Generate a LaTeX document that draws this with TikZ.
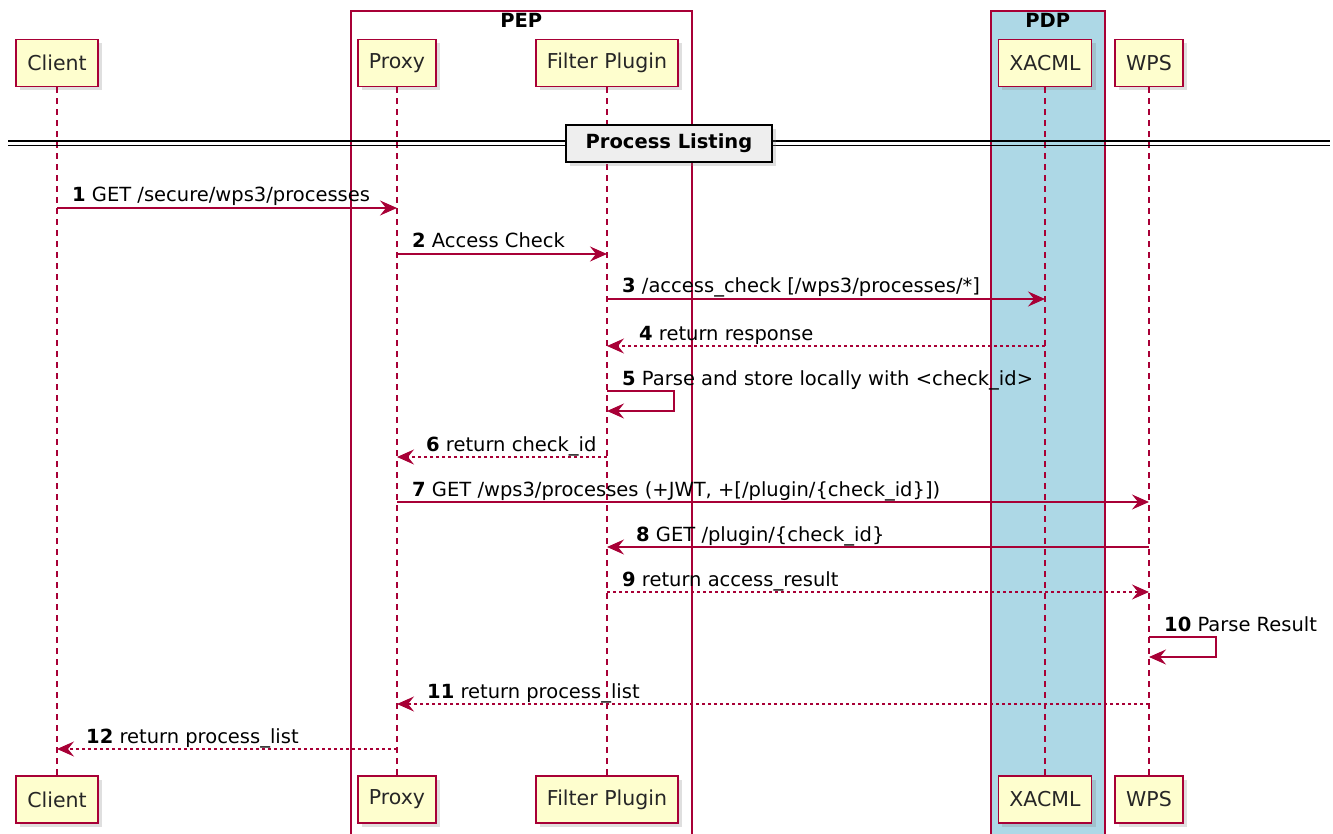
\documentclass[tikz,border=0pt]{standalone}
\usepackage{fontspec}
\setmainfont{DejaVu Sans}
\usetikzlibrary{arrows.meta,shadows}
\definecolor{umlred}{HTML}{A80036}
\definecolor{umlfill}{HTML}{FEFECE}
\definecolor{pdpblue}{HTML}{ADD8E6}
\definecolor{divfill}{HTML}{EEEEEE}

\begin{document}
\begin{tikzpicture}[x=1pt,y=-1pt,
    actor/.style={draw=umlred,fill=umlfill,line width=1.8pt,minimum height=47pt,
      inner xsep=11pt,text=black!85,font=\fontsize{20.5}{24}\selectfont,
      drop shadow={shadow xshift=4pt,shadow yshift=-4pt,opacity=.25}},
    grp/.style={draw=umlred,line width=1.6pt,anchor=north west,inner sep=0},
    grplbl/.style={anchor=north,inner sep=0,yshift=-3pt,font=\fontsize{19.5}{23}\selectfont\bfseries},
    life/.style={umlred,line width=1.5pt,dash pattern=on 6pt off 5pt},
    msg/.style={umlred,line width=1.6pt,-{Stealth[length=17pt,width=15pt,inset=6pt]}},
    ret/.style={msg,line width=1.4pt,dash pattern=on 3pt off 3pt},
    lbl/.style={anchor=base west,inner sep=0,font=\fontsize{19.5}{23}\selectfont}]
    \useasboundingbox (0,0) rectangle (1333,834);

    % groups
    \node[grp,minimum width=341pt,minimum height=840pt] (pep) at (350,10) {};
    \node[grp,fill=pdpblue,minimum width=114pt,minimum height=840pt] (pdp) at (990,10) {};
    \node[grplbl] at (pep.north) {PEP};
    \node[grplbl] at (pdp.north) {PDP};

    % participants and lifelines
    \foreach \n/\x/\t in {client/57/Client, proxy/397/Proxy, filter/607/Filter Plugin,
        xacml/1045/XACML, wps/1149/WPS} {
        \node[actor] (\n) at (\x,63) {\t};
        \node[actor] (\n-b) at (\x,799.5) {\t};
        \draw[life] (\n.south) -- (\n-b.north);
    }

    % divider
    \draw[line width=1.5pt] (8,141) -- (1330,141);
    \draw[line width=1.5pt] (8,145.5) -- (1330,145.5);
    \node[draw,line width=2.2pt,fill=divfill,minimum width=206pt,minimum height=37pt,
      font=\fontsize{19.5}{23}\selectfont\bfseries,
      drop shadow={shadow xshift=4pt,shadow yshift=-4pt,opacity=.25}] (div) at (669,143.5) {Process Listing};

    % message rows
    \foreach \i/\y in {1/208,2/254,3/299,4/346,5/391,6/457,7/502,8/547,9/592,10/637,11/704,12/749}
        \coordinate (r\i) at (0,\y);

    \draw[msg] (client |- r1) -- (proxy |- r1);
    \node[lbl] (t1) at ([xshift=15pt,yshift=6pt]client |- r1) {\textbf{1} GET /secure/wps3/processes};
    \draw[msg] (proxy |- r2) -- (filter |- r2);
    \node[lbl] (t2) at ([xshift=15pt,yshift=6pt]proxy |- r2) {\textbf{2} Access Check};
    \draw[msg] (filter |- r3) -- (xacml |- r3);
    \node[lbl] (t3) at ([xshift=15pt,yshift=6pt]filter |- r3) {\textbf{3} /access\_check [/wps3/processes/*]};
    \draw[ret] (xacml |- r4) -- (filter |- r4);
    \node[lbl] (t4) at ([xshift=32pt,yshift=6pt]filter |- r4) {\textbf{4} return response};
    \draw[msg] (filter |- r5) -- ++(67,0) -- ++(0,20) -- ++(-67,0);
    \node[lbl] (t5) at ([xshift=15pt,yshift=6pt]filter |- r5) {\textbf{5} Parse and store locally with <check\_id>};
    \draw[ret] (filter |- r6) -- (proxy |- r6);
    \node[lbl] (t6) at ([xshift=29pt,yshift=6pt]proxy |- r6) {\textbf{6} return check\_id};
    \draw[msg] (proxy |- r7) -- (wps |- r7);
    \node[lbl] (t7) at ([xshift=15pt,yshift=6pt]proxy |- r7) {\textbf{7} GET /wps3/processes (+JWT, +[/plugin/\{check\_id\}])};
    \draw[msg] (wps |- r8) -- (filter |- r8);
    \node[lbl] (t8) at ([xshift=29pt,yshift=6pt]filter |- r8) {\textbf{8} GET /plugin/\{check\_id\}};
    \draw[ret] (filter |- r9) -- (wps |- r9);
    \node[lbl] (t9) at ([xshift=15pt,yshift=6pt]filter |- r9) {\textbf{9} return access\_result};
    \draw[msg] (wps |- r10) -- ++(67,0) -- ++(0,20) -- ++(-67,0);
    \node[lbl] (t10) at ([xshift=15pt,yshift=6pt]wps |- r10) {\textbf{10} Parse Result};
    \draw[ret] (wps |- r11) -- (proxy |- r11);
    \node[lbl] (t11) at ([xshift=30pt,yshift=6pt]proxy |- r11) {\textbf{11} return process\_list};
    \draw[ret] (proxy |- r12) -- (client |- r12);
    \node[lbl] (t12) at ([xshift=29pt,yshift=6pt]client |- r12) {\textbf{12} return process\_list};
\end{tikzpicture}
\end{document}
